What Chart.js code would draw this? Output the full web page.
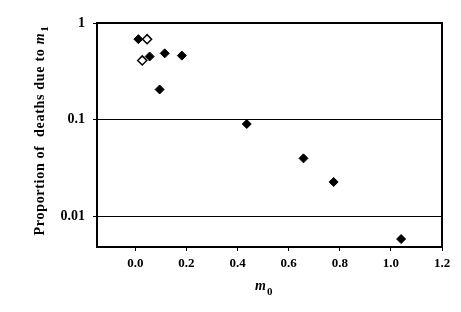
<!DOCTYPE html>
<html>
<head>
<meta charset="utf-8">
<script src="https://cdn.jsdelivr.net/npm/chart.js@4.4.1/dist/chart.umd.min.js"></script>
<style>
  html, body { margin: 0; padding: 0; background: #fff; }
  #wrap { width: 461px; height: 312px; }
</style>
</head>
<body>
<div id="wrap"><canvas id="chart" width="461" height="312"></canvas></div>
<script>
// filled diamonds
const filledX = [0.012, 0.056, 0.115, 0.182, 0.095, 0.436, 0.658, 0.776, 1.04];
const filledY = [0.68, 0.45, 0.485, 0.46, 0.205, 0.09, 0.0397, 0.0226, 0.0058];
// open diamonds
const openX = [0.046, 0.027];
const openY = [0.68, 0.41];

const xTicks = [0, 0.2, 0.4, 0.6, 0.8, 1.0, 1.2];
const yTicks = [0.01, 0.1, 1];

const FONT = 'Liberation Serif';

const toPoints = (xs, ys) => xs.map((x, i) => ({ x: x, y: ys[i] }));

// frame + axis titles (italic m with subscript)
const extras = {
  id: 'extras',
  afterDraw(chart) {
    const c = chart.ctx, a = chart.chartArea;
    c.save();
    c.strokeStyle = '#000';
    c.lineWidth = 2;
    c.strokeRect(a.left, a.top, a.right - a.left, a.bottom - a.top);

    c.fillStyle = '#000';
    c.textBaseline = 'alphabetic';
    c.textAlign = 'left';
    // x title
    c.font = 'italic bold 14px ' + FONT;
    const mw = c.measureText('m').width;
    c.fillText('m', 255, 290);
    c.font = 'bold 11px ' + FONT;
    c.fillText('0', 255 + mw + 1, 295);

    // y title rotated
    c.translate(44, 131);
    c.rotate(-Math.PI / 2);
    c.letterSpacing = '0.7px';
    c.font = 'bold 14px ' + FONT;
    const main = 'Proportion of  deaths due to ';
    const w1 = c.measureText(main).width;
    c.font = 'italic bold 14px ' + FONT;
    const w2 = c.measureText('m').width;
    c.font = 'bold 11px ' + FONT;
    const w3 = c.measureText('1').width;
    const sx = -(w1 + w2 + w3) / 2;
    c.font = 'bold 14px ' + FONT;
    c.fillText(main, sx, 0);
    c.font = 'italic bold 14px ' + FONT;
    c.fillText('m', sx + w1, 0);
    c.font = 'bold 11px ' + FONT;
    c.fillText('1', sx + w1 + w2 + 1, 4);
    c.restore();
  }
};

new Chart(document.getElementById('chart'), {
  type: 'scatter',
  data: {
    datasets: [
      {
        data: toPoints(filledX, filledY),
        pointStyle: 'rectRot',
        pointRadius: 4.5,
        backgroundColor: '#000',
        borderColor: '#000',
        borderWidth: 1
      },
      {
        data: toPoints(openX, openY),
        pointStyle: 'rectRot',
        pointRadius: 4.5,
        backgroundColor: '#fff',
        borderColor: '#000',
        borderWidth: 1.5
      }
    ]
  },
  options: {
    responsive: false,
    animation: false,
    layout: { padding: { top: 23, right: 19, left: 0, bottom: 0 } },
    plugins: { legend: { display: false }, tooltip: { enabled: false } },
    scales: {
      x: {
        type: 'linear',
        min: -0.15,
        max: 1.2,
        afterBuildTicks: s => { s.ticks = xTicks.map(v => ({ value: v })); },
        afterFit: s => { s.height = 312 - 247; },
        border: { display: true, color: '#000', width: 2 },
        grid: { drawOnChartArea: false, drawTicks: true, tickLength: 4, color: '#000', lineWidth: 1 },
        ticks: {
          color: '#000',
          padding: 5,
          maxRotation: 0,
          font: { family: FONT, size: 13, weight: 'bold' },
          callback: v => Number(v).toFixed(1)
        }
      },
      y: {
        type: 'logarithmic',
        min: 0.0048,
        max: 1,
        afterBuildTicks: s => { s.ticks = yTicks.map(v => ({ value: v })); },
        afterFit: s => { s.width = 97; },
        border: { display: true, color: '#000', width: 2 },
        grid: { drawTicks: true, tickLength: 4, color: '#000', lineWidth: 1 },
        ticks: {
          color: '#000',
          padding: 8,
          font: { family: FONT, size: 14, weight: 'bold' },
          callback: v => String(v)
        }
      }
    }
  },
  plugins: [extras]
});
</script>
</body>
</html>
